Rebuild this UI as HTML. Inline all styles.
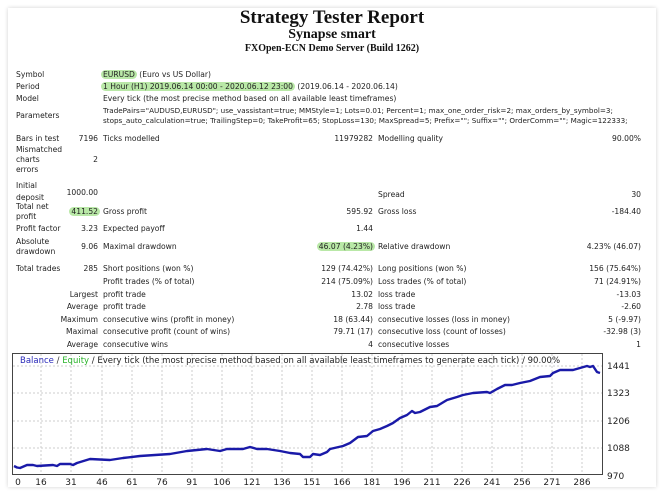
<!DOCTYPE html>
<html><head><meta charset="utf-8"><style>
body{margin:0;width:664px;height:492px;background:#fff;font-family:"DejaVu Sans","Liberation Sans",sans-serif;font-size:7.6px;color:#222;position:relative;overflow:hidden}
.card{position:absolute;left:8px;top:8px;width:648px;height:479px;background:#fff;box-shadow:0 0 4px rgba(0,0,0,.18)}
.t{position:absolute;white-space:nowrap;line-height:10px}
.r{text-align:right}
.h{background:#b9e8a7;border-radius:5px;padding:0 2px}
.ti{position:absolute;left:0;width:664px;text-align:center;font-family:"Liberation Serif",serif;font-weight:bold;color:#111}
</style></head><body>
<div class="card"></div>
<div class="ti" style="top:7px;font-size:19px">Strategy Tester Report</div>
<div class="ti" style="top:27px;font-size:14px">Synapse smart</div>
<div class="ti" style="top:43px;font-size:10px">FXOpen-ECN Demo Server (Build 1262)</div>

<div class="t" style="left:16px;top:70px">Symbol</div>
<div class="t" style="left:101px;top:70px"><span class="h">EURUSD</span> (Euro vs US Dollar)</div>
<div class="t" style="left:16px;top:82px">Period</div>
<div class="t" style="left:101px;top:82px"><span class="h">1 Hour (H1) 2019.06.14 00:00 - 2020.06.12 23:00</span> (2019.06.14 - 2020.06.14)</div>
<div class="t" style="left:16px;top:94px">Model</div>
<div class="t" style="left:103px;top:94px">Every tick (the most precise method based on all available least timeframes)</div>
<div class="t" style="left:16px;top:111px">Parameters</div>
<div class="t" style="left:103px;top:106px;font-size:7.2px">TradePairs="AUDUSD,EURUSD"; use_vassistant=true; MMStyle=1; Lots=0.01; Percent=1; max_one_order_risk=2; max_orders_by_symbol=3;</div>
<div class="t" style="left:103px;top:116px;font-size:7.2px">stops_auto_calculation=true; TrailingStep=0; TakeProfit=65; StopLoss=130; MaxSpread=5; Prefix=""; Suffix=""; OrderComm=""; Magic=122333;</div>

<div class="t" style="left:16px;top:134px">Bars in test</div>
<div class="t r" style="right:566px;top:134px">7196</div>
<div class="t" style="left:103px;top:134px">Ticks modelled</div>
<div class="t r" style="right:291px;top:134px">11979282</div>
<div class="t" style="left:378px;top:134px">Modelling quality</div>
<div class="t r" style="right:23px;top:134px">90.00%</div>

<div class="t" style="left:16px;top:145px">Mismatched<br>charts<br>errors</div>
<div class="t r" style="right:566px;top:155px">2</div>

<div class="t" style="left:16px;top:181px">Initial</div>
<div class="t" style="left:16px;top:193px">deposit</div>
<div class="t r" style="right:566px;top:188px">1000.00</div>
<div class="t" style="left:378px;top:190px">Spread</div>
<div class="t r" style="right:23px;top:190px">30</div>

<div class="t" style="left:16px;top:202px">Total net<br>profit</div>
<div class="t r" style="right:564px;top:207px"><span class="h">411.52</span></div>
<div class="t" style="left:103px;top:207px">Gross profit</div>
<div class="t r" style="right:291px;top:207px">595.92</div>
<div class="t" style="left:378px;top:207px">Gross loss</div>
<div class="t r" style="right:23px;top:207px">-184.40</div>

<div class="t" style="left:16px;top:224px">Profit factor</div>
<div class="t r" style="right:566px;top:224px">3.23</div>
<div class="t" style="left:103px;top:224px">Expected payoff</div>
<div class="t r" style="right:291px;top:224px">1.44</div>

<div class="t" style="left:16px;top:237px">Absolute<br>drawdown</div>
<div class="t r" style="right:566px;top:242px">9.06</div>
<div class="t" style="left:103px;top:242px">Maximal drawdown</div>
<div class="t r" style="right:289px;top:242px"><span class="h">46.07 (4.23%)</span></div>
<div class="t" style="left:378px;top:242px">Relative drawdown</div>
<div class="t r" style="right:23px;top:242px">4.23% (46.07)</div>

<div class="t" style="left:16px;top:264px">Total trades</div>
<div class="t r" style="right:566px;top:264px">285</div>
<div class="t" style="left:103px;top:264px">Short positions (won %)</div>
<div class="t r" style="right:291px;top:264px">129 (74.42%)</div>
<div class="t" style="left:378px;top:264px">Long positions (won %)</div>
<div class="t r" style="right:23px;top:264px">156 (75.64%)</div>

<div class="t" style="left:103px;top:277px">Profit trades (% of total)</div>
<div class="t r" style="right:291px;top:277px">214 (75.09%)</div>
<div class="t" style="left:378px;top:277px">Loss trades (% of total)</div>
<div class="t r" style="right:23px;top:277px">71 (24.91%)</div>

<div class="t r" style="right:566px;top:290px">Largest</div>
<div class="t" style="left:103px;top:290px">profit trade</div>
<div class="t r" style="right:291px;top:290px">13.02</div>
<div class="t" style="left:378px;top:290px">loss trade</div>
<div class="t r" style="right:23px;top:290px">-13.03</div>

<div class="t r" style="right:566px;top:302px">Average</div>
<div class="t" style="left:103px;top:302px">profit trade</div>
<div class="t r" style="right:291px;top:302px">2.78</div>
<div class="t" style="left:378px;top:302px">loss trade</div>
<div class="t r" style="right:23px;top:302px">-2.60</div>

<div class="t r" style="right:566px;top:315px">Maximum</div>
<div class="t" style="left:103px;top:315px">consecutive wins (profit in money)</div>
<div class="t r" style="right:291px;top:315px">18 (63.44)</div>
<div class="t" style="left:378px;top:315px">consecutive losses (loss in money)</div>
<div class="t r" style="right:23px;top:315px">5 (-9.97)</div>

<div class="t r" style="right:566px;top:327px">Maximal</div>
<div class="t" style="left:103px;top:327px">consecutive profit (count of wins)</div>
<div class="t r" style="right:291px;top:327px">79.71 (17)</div>
<div class="t" style="left:378px;top:327px">consecutive loss (count of losses)</div>
<div class="t r" style="right:23px;top:327px">-32.98 (3)</div>

<div class="t r" style="right:566px;top:340px">Average</div>
<div class="t" style="left:103px;top:340px">consecutive wins</div>
<div class="t r" style="right:291px;top:340px">4</div>
<div class="t" style="left:378px;top:340px">consecutive losses</div>
<div class="t r" style="right:23px;top:340px">1</div>

<svg style="position:absolute;left:0;top:0" width="664" height="492" font-family="DejaVu Sans, Liberation Sans, sans-serif" font-size="8.5">
<rect x="12.5" y="353.5" width="590" height="121" fill="#fff" stroke="#444"/>
<g stroke="#ccc" stroke-dasharray="2,2">
<line x1="13" x2="602" y1="366" y2="366"/><line x1="13" x2="602" y1="393" y2="393"/><line x1="13" x2="602" y1="421" y2="421"/><line x1="13" x2="602" y1="448" y2="448"/>
<line y1="354" y2="474" x1="41" x2="41"/><line y1="354" y2="474" x1="71" x2="71"/><line y1="354" y2="474" x1="102" x2="102"/><line y1="354" y2="474" x1="132" x2="132"/><line y1="354" y2="474" x1="162" x2="162"/><line y1="354" y2="474" x1="192" x2="192"/><line y1="354" y2="474" x1="222" x2="222"/><line y1="354" y2="474" x1="252" x2="252"/><line y1="354" y2="474" x1="282" x2="282"/><line y1="354" y2="474" x1="312" x2="312"/><line y1="354" y2="474" x1="342" x2="342"/><line y1="354" y2="474" x1="372" x2="372"/><line y1="354" y2="474" x1="402" x2="402"/><line y1="354" y2="474" x1="432" x2="432"/><line y1="354" y2="474" x1="462" x2="462"/><line y1="354" y2="474" x1="492" x2="492"/><line y1="354" y2="474" x1="522" x2="522"/><line y1="354" y2="474" x1="552" x2="552"/><line y1="354" y2="474" x1="582" x2="582"/>
</g>
<polyline fill="none" stroke="#1a1aa8" stroke-width="2.4" stroke-linejoin="round" points="14,466 17,467.5 20,468 27,465 33,465 37,466 53,465 57,466 60,464 70,464 73,465 77,463 90,459 110,460 123,458 140,456 170,454 187,451 207,449 220,451 227,449 243,449 250,447 257,449 267,449 280,451 290,453 300,454 303,457 310,457 313,454 320,455 327,452 330,449 343,446 350,443 358,437 367,436 373,431 380,429 387,426 393,423 400,418 407,415 412,411 415,413 420,412 430,407 437,406 447,400 457,397 463,395 473,393 487,392 490,393 497,389 505,385 512,385 520,383 530,381 540,377 550,376 553,373 560,370 573,370 580,368 587,366 590,367 593,366 597,372 600,373"/>
<text x="20" y="363" fill="#2828b8">Balance <tspan fill="#333">/</tspan> <tspan fill="#2bb52b">Equity</tspan><tspan fill="#222"> / Every tick (the most precise method based on all available least timeframes to generate each tick) / 90.00%</tspan></text>
<g fill="#222" font-size="9">
<text x="607" y="369">1441</text><text x="607" y="396">1323</text><text x="607" y="424">1206</text><text x="607" y="451">1088</text><text x="607" y="479">970</text>
</g>
<g fill="#222" font-size="9" text-anchor="middle">
<text x="18" y="485">0</text><text x="41" y="485">16</text><text x="71" y="485">31</text><text x="102" y="485">46</text><text x="132" y="485">61</text><text x="162" y="485">76</text><text x="192" y="485">91</text><text x="222" y="485">106</text><text x="252" y="485">121</text><text x="282" y="485">136</text><text x="312" y="485">151</text><text x="342" y="485">166</text><text x="372" y="485">181</text><text x="402" y="485">196</text><text x="432" y="485">211</text><text x="462" y="485">226</text><text x="492" y="485">241</text><text x="522" y="485">256</text><text x="552" y="485">271</text><text x="582" y="485">286</text>
</g>
</svg>
</body></html>
